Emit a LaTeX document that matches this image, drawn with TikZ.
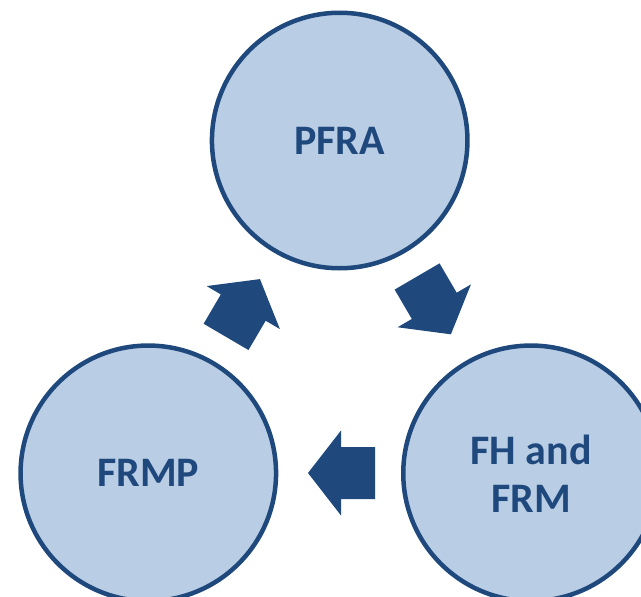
\documentclass[tikz,border=0pt]{standalone}
\usepackage{fontspec}
\setmainfont{Carlito}
\definecolor{cfill}{RGB}{185,205,229}
\definecolor{cdark}{RGB}{31,73,125}
\begin{document}
\begin{tikzpicture}[x=1pt,y=-1pt,
  stage/.style={circle,draw=cdark,fill=cfill,line width=4.5pt,minimum size=255.5pt,inner sep=0pt},
  label/.style={text=cdark,font=\bfseries\fontsize{42}{48}\selectfont,align=center},
  pics/blockarrow/.style={code={
    \fill[cdark] (33.5,0) -- (0.5,42.5) -- (0.5,26) -- (-33.5,26) -- (-33.5,-26) -- (0.5,-26) -- (0.5,-42.5) -- cycle;}}]
\useasboundingbox (0,0) rectangle (641,597);
\clip (0,0) rectangle (641,597);
\node[stage] (pfra) at (339.7,140.5) {};
\node[stage] (frmp) at (148.3,473.3) {};
\node[stage] (fh) at (531,473.3) {};
\node[label] (tpfra) at (pfra) {PFRA};
\node[label] (tfrmp) at (frmp) {FRMP};
\node[label] (tfh) at (fh) {FH and\\FRM};
\pic[rotate=-59.7] (a1) at (434,305.4) {blockarrow};
\pic[rotate=180] (a2) at (341.5,473) {blockarrow};
\pic[rotate=59.6] (a3) at (243,308) {blockarrow};
\end{tikzpicture}
\end{document}
